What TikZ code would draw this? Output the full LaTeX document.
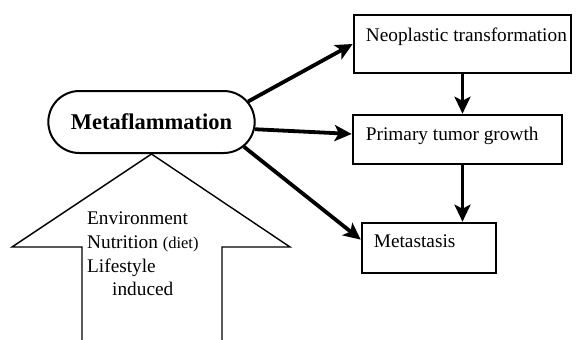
\documentclass[tikz,border=0pt]{standalone}
\usepackage{fontspec}
\setmainfont{Liberation Serif}
\usetikzlibrary{shapes.misc}
\usetikzlibrary{positioning}
\usetikzlibrary{arrows.meta}
\tikzset{
    stagebox/.style = {rectangle, line width=2.6pt, draw=black, fill=white, inner sep=0pt},
    stagetext/.style = {anchor=base west, inner sep=0pt, font=\fontsize{19.3}{23}\selectfont},
    pillnode/.style = {rounded rectangle, line width=2pt, draw=black, fill=white, minimum width=213pt, minimum height=62pt, font=\bfseries\fontsize{22.5}{27}\selectfont},
    causetext/.style = {anchor=base west, inner sep=0pt, font=\fontsize{19.3}{23}\selectfont},
    bigarrow/.style = {line width=1.4pt, draw=black, fill=white, line join=miter},
    edgen/.style = {-{Stealth[length=17pt,width=16pt,inset=4pt]}, line width=3.8pt}, % thick arrows
}

\begin{document}
\begin{tikzpicture}[x=1pt,y=-1pt]
\useasboundingbox (0,0) rectangle (579,340);

\node[pillnode] at (151.5,122) (metaf) {Metaflammation};
\node[stagebox, minimum width=217pt, minimum height=58pt] at (462.5,44) (neo) {};
\node[stagebox, minimum width=209pt, minimum height=49pt] at (457.5,139.5) (growth) {};
\node[stagebox, minimum width=134pt, minimum height=50pt] at (429,248) (metast) {};
%
\node[stagetext] at ([xshift=13pt,yshift=-28pt]neo.north west) (neotext) {Neoplastic transformation};
\node[stagetext] at ([xshift=14pt,yshift=-27pt]growth.north west) (growthtext) {Primary tumor growth};
\node[stagetext] at ([xshift=13pt,yshift=-26pt]metast.north west) (metasttext) {Metastasis};

% big arrow from below
\draw[bigarrow] (82,345) -- (82,247) -- (12,247) -- (metaf.south) -- (290,247) -- (222,247) -- (222,345);
\node[causetext] at (87,224) (env) {Environment};
\node[causetext] at (87,248) (nutr) {Nutrition {\fontsize{16.5}{20}\selectfont(diet)}};
\node[causetext] at (87,272) (life) {Lifestyle};
\node[causetext] at (112,295) (induced) {induced};
%
\draw[edgen] (metaf.12) -- (neo.west);
\draw[edgen] (metaf.-4) -- (growth.177);
\draw[edgen] (metaf.-15) -- (metast.173);
\draw[edgen] (neo.south) -- (neo.south |- growth.north);
\draw[edgen] (neo.south |- growth.south) -- (neo.south |- metast.north);

\end{tikzpicture}
\end{document}
